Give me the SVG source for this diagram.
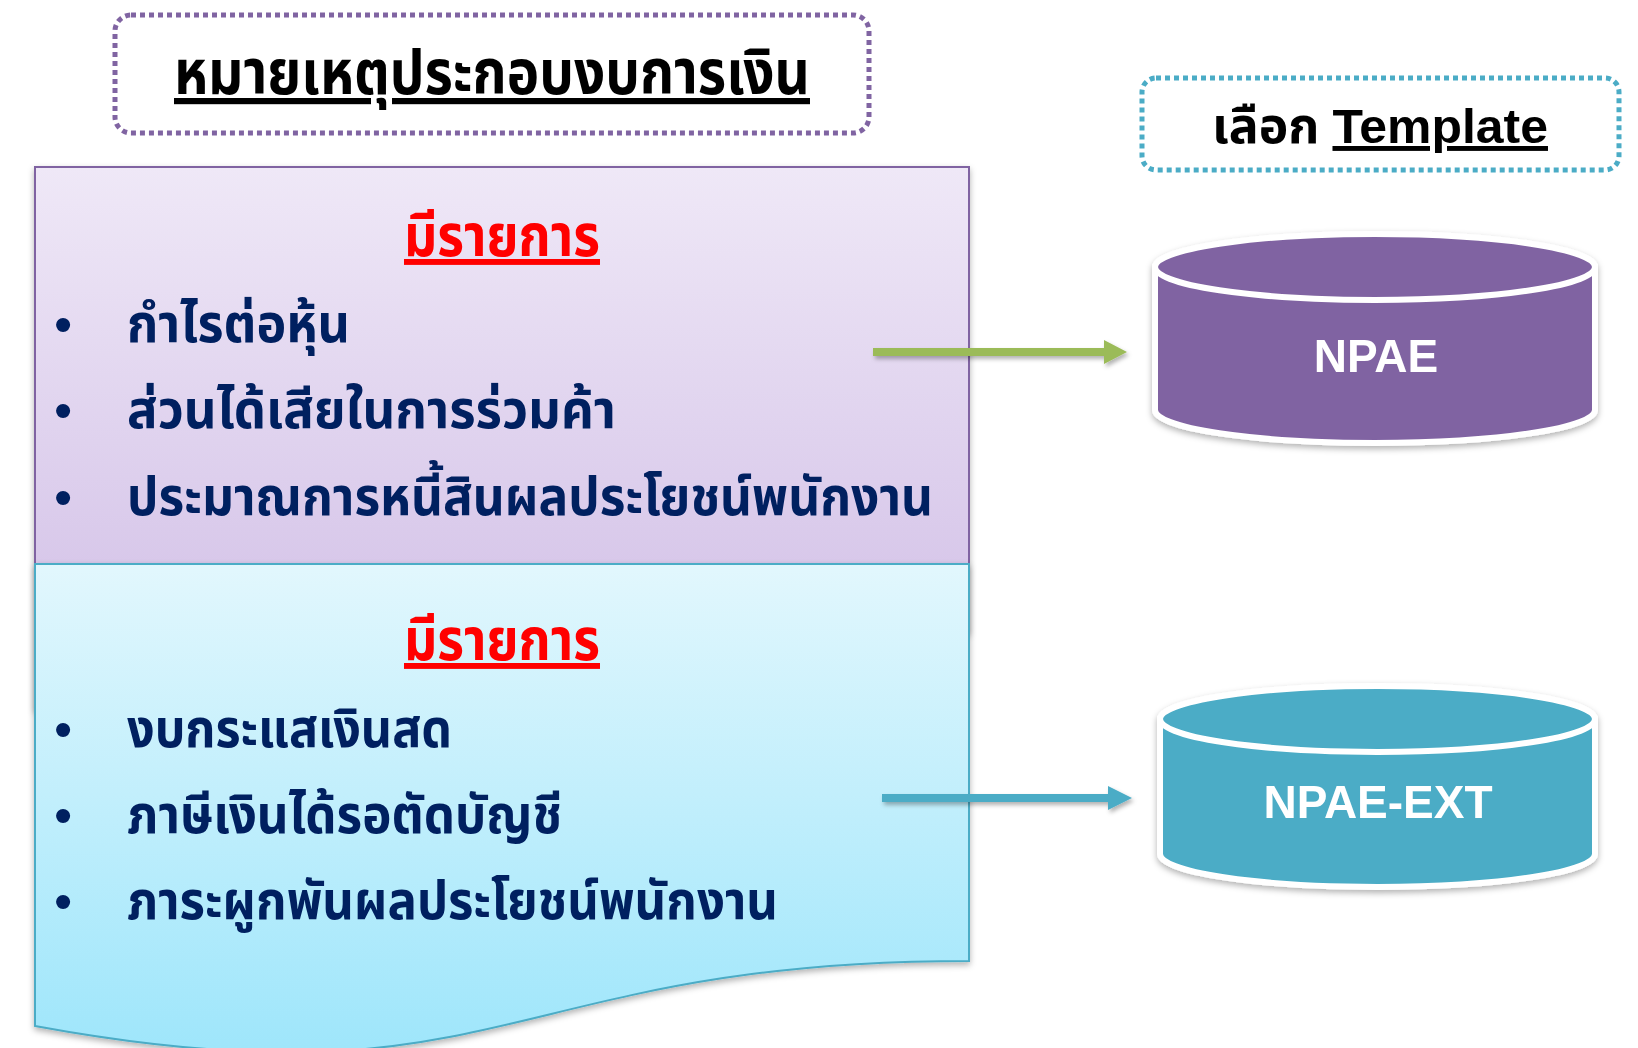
<svg xmlns="http://www.w3.org/2000/svg" width="1638" height="1048" viewBox="0 0 1638 1048">
<defs>
<style>
.th{font-family:"Noto Sans Thai","Noto Sans","Liberation Sans",sans-serif;font-weight:bold}
.body{fill:#002060;font-size:53px}
.head{fill:#FF0000;font-size:59px;text-decoration:underline}
.bul{font-family:"Liberation Sans",sans-serif;font-size:52px;fill:#002060;text-anchor:middle}
.lat{font-family:"Liberation Sans",Arial,sans-serif;font-weight:bold}
.cyltext{fill:#FFFFFF;font-size:46px;text-anchor:middle}
</style>
<linearGradient id="gPurple" x1="0" y1="167" x2="0" y2="564" gradientUnits="userSpaceOnUse">
<stop offset="0" stop-color="#EFE8F7"/>
<stop offset="1" stop-color="#D8C8EA"/>
</linearGradient>
<linearGradient id="gCyan" x1="0" y1="564" x2="0" y2="1048" gradientUnits="userSpaceOnUse">
<stop offset="0" stop-color="#E2F7FD"/>
<stop offset="1" stop-color="#9FE6FB"/>
</linearGradient>
<filter id="sh" x="-10%" y="-10%" width="120%" height="130%">
<feDropShadow dx="0" dy="3" stdDeviation="3" flood-color="#000000" flood-opacity="0.3"/>
</filter>
<filter id="sha" x="-5%" y="-100%" width="110%" height="300%">
<feDropShadow dx="2" dy="3" stdDeviation="2" flood-color="#000000" flood-opacity="0.3"/>
</filter>
</defs>
<rect x="0" y="0" width="1638" height="1048" fill="#FFFFFF"/>

<g id="title">
<rect x="115" y="15" width="754" height="118" rx="16" fill="none" stroke="#8064A2" stroke-width="5" stroke-dasharray="5 4"/>
<text class="th" x="492" y="94" font-size="62" text-anchor="middle" textLength="636" lengthAdjust="spacingAndGlyphs" fill="#000000" text-decoration="underline">หมายเหตุประกอบงบการเงิน</text>
</g>

<g id="template-label">
<rect x="1142" y="78" width="477" height="92" rx="14" fill="none" stroke="#4BACC6" stroke-width="5" stroke-dasharray="5 4"/>
<text class="th" x="1212" y="143" font-size="49" fill="#000000" textLength="336" lengthAdjust="spacingAndGlyphs">เลือก <tspan class="lat" text-decoration="underline">Template</tspan></text>
</g>

<g id="panel-npae">
<path d="M35,167 H969 V632 C502,632 502,809 35,709 Z" fill="url(#gPurple)" stroke="#8064A2" stroke-width="2" filter="url(#sh)"/>
<text class="th head" x="502" y="256" text-anchor="middle" textLength="196" lengthAdjust="spacingAndGlyphs">มีรายการ</text>
<text class="bul" x="63" y="342">•</text>
<text class="th body" x="127" y="342" textLength="223" lengthAdjust="spacingAndGlyphs">กำไรต่อหุ้น</text>
<text class="bul" x="63" y="428">•</text>
<text class="th body" x="127" y="428" textLength="489" lengthAdjust="spacingAndGlyphs">ส่วนได้เสียในการร่วมค้า</text>
<text class="bul" x="63" y="515">•</text>
<text class="th body" x="127" y="515" textLength="806" lengthAdjust="spacingAndGlyphs">ประมาณการหนี้สินผลประโยชน์พนักงาน</text>
</g>

<g id="panel-npae-ext">
<path d="M35,564 H969 V961 C502,961 502,1112 35,1026 Z" fill="url(#gCyan)" stroke="#4BACC6" stroke-width="2" filter="url(#sh)"/>
<text class="th head" x="502" y="660" text-anchor="middle" textLength="196" lengthAdjust="spacingAndGlyphs">มีรายการ</text>
<text class="bul" x="63" y="747">•</text>
<text class="th body" x="127" y="747" textLength="325" lengthAdjust="spacingAndGlyphs">งบกระแสเงินสด</text>
<text class="bul" x="63" y="833">•</text>
<text class="th body" x="127" y="833" textLength="435" lengthAdjust="spacingAndGlyphs">ภาษีเงินได้รอตัดบัญชี</text>
<text class="bul" x="63" y="919">•</text>
<text class="th body" x="127" y="919" textLength="651" lengthAdjust="spacingAndGlyphs">ภาระผูกพันผลประโยชน์พนักงาน</text>
</g>

<g id="cyl-npae" filter="url(#sh)">
<path d="M1155,267 V410 A220,33 0 0 0 1595,410 V267 Z" fill="#8064A2" stroke="#FFFFFF" stroke-width="6"/>
<ellipse cx="1375" cy="267" rx="220" ry="33" fill="#8064A2" stroke="#FFFFFF" stroke-width="6"/>
<text class="lat cyltext" x="1376" y="372">NPAE</text>
</g>

<g id="cyl-npae-ext" filter="url(#sh)">
<path d="M1160,719 V854 A217.5,33 0 0 0 1595,854 V719 Z" fill="#4BACC6" stroke="#FFFFFF" stroke-width="6"/>
<ellipse cx="1377.5" cy="719" rx="217.5" ry="33" fill="#4BACC6" stroke="#FFFFFF" stroke-width="6"/>
<text class="lat cyltext" x="1378" y="818" font-size="48">NPAE-EXT</text>
</g>

<g id="connectors">
<path d="M873,348 H1104 V340 L1127,352 L1104,364 V356 H873 Z" fill="#9BBB59" filter="url(#sha)"/>
<path d="M882,794 H1108 V786 L1132,798 L1108,810 V802 H882 Z" fill="#4BACC6" filter="url(#sha)"/>
</g>
</svg>
